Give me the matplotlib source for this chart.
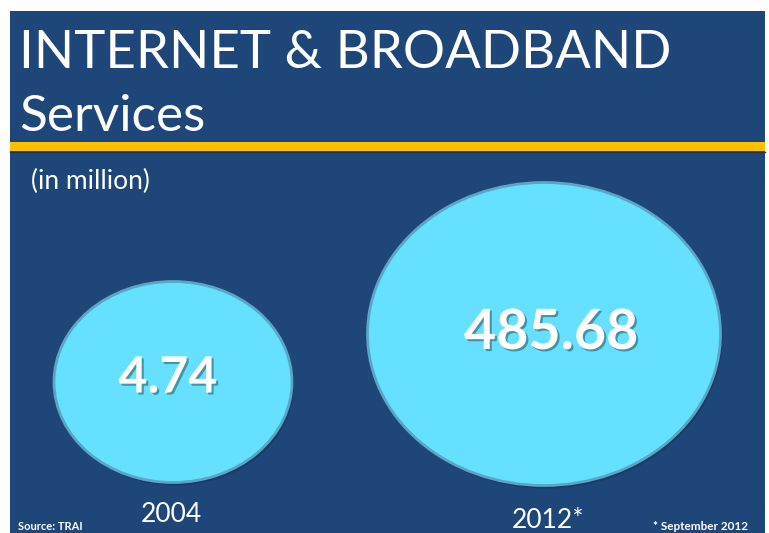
import matplotlib
matplotlib.use("Agg")
import matplotlib.pyplot as plt
import matplotlib.patheffects as pe
from matplotlib.patches import Ellipse, Rectangle

# data
years = ["2004", "2012*"]
values = [4.74, 485.68]
unit_note = "(in million)"
source_note = "Source: TRAI"
foot_note = "* September 2012"

# bubble layout (pixel coords), not data
centers = [(173, 382), (544, 334)]
sizes = [(238, 201), (353, 303)]
label_pos = [(168, 378), (551, 333)]
value_fs = [36, 40]
year_pos = [(171, 515), (548, 520)]

BG = "#1f4679"
CYAN = "#66e0ff"
GOLD = "#ffc000"

plt.rcParams["font.family"] = ["Lato", "DejaVu Sans"]

fig = plt.figure(figsize=(7.69, 5.33), dpi=100, facecolor="white")
ax = fig.add_axes([0, 0, 1, 1])
ax.set_xlim(0, 769)
ax.set_ylim(533, 0)
ax.axis("off")

# panel and gold rule
ax.add_patch(Rectangle((10, 11), 755, 522, facecolor=BG, edgecolor="none"))
ax.add_patch(Rectangle((10, 142), 755, 9, facecolor=GOLD, edgecolor="none"))
ax.plot([10, 765], [152, 152], color="#16365e", lw=1)

ax.text(19, 53, "INTERNET & BROADBAND", color="white", fontsize=38,
        va="center", ha="left")
ax.text(19, 117, "Services", color="white", fontsize=37, va="center", ha="left")
ax.text(31, 181, unit_note, color="white", fontsize=19, va="center", ha="left")

shadow = [pe.SimplePatchShadow(offset=(1.5, -1.5), shadow_rgbFace="#306070", alpha=0.6),
          pe.Normal()]

for (cx, cy), (w, h), (lx, ly), val, fs, yr, (yx, yy) in zip(
        centers, sizes, label_pos, values, value_fs, years, year_pos):
    ax.add_patch(Ellipse((cx + 2, cy + 3), w, h, facecolor="#14325a", edgecolor="none",
                         alpha=0.5))
    ax.add_patch(Ellipse((cx, cy), w, h, facecolor=CYAN, edgecolor="#5aa6c4", lw=2))
    ax.text(lx, ly, f"{val:g}", color="white", fontsize=fs, fontweight="bold",
            ha="center", va="center", path_effects=shadow)
    ax.text(yx, yy, yr, color="white", fontsize=19, ha="center", va="center")

ax.text(18, 527, source_note, color="white", fontsize=8, fontweight="bold",
        ha="left", va="center")
ax.text(748, 527, foot_note, color="white", fontsize=8.5, fontweight="bold",
        ha="right", va="center")

fig.savefig("out.png", dpi=100, facecolor="white")
